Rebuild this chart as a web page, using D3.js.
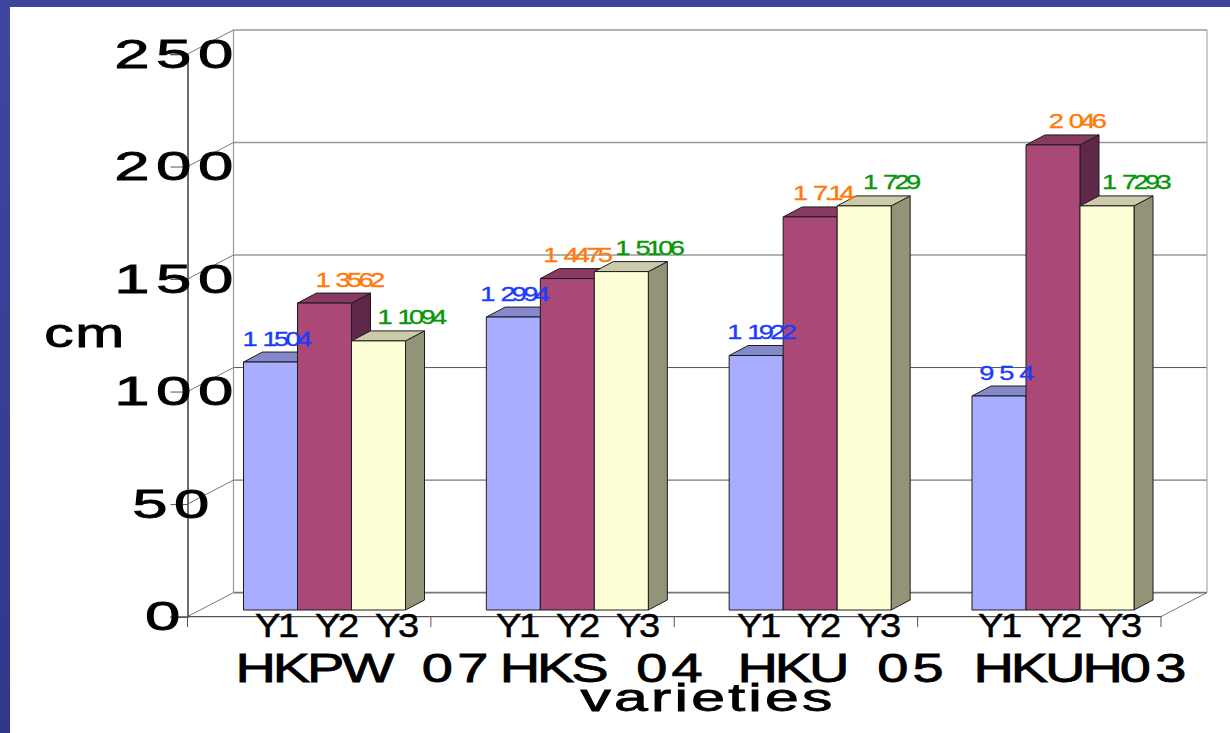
<!DOCTYPE html>
<html><head><meta charset="utf-8">
<script src="https://cdn.jsdelivr.net/npm/d3@7/dist/d3.min.js"></script>
<style>html,body{margin:0;padding:0;background:#fff;overflow:hidden}svg{display:block}text{font-family:"Liberation Sans",Arial,sans-serif}</style>
</head><body><svg id="c" width="1230" height="733"></svg>
<script>
const categories = ["HKPW 07", "HKS 04", "HKU 05", "HKUH03"];
const seriesNames = ["Y1", "Y2", "Y3"];
const y1Values = [110.2, 130.2, 113.1, 95.1];
const y2Values = [136.4, 147.3, 174.7, 206.7];
const y3Values = [119.6, 150.4, 179.6, 179.6];
const y1Labels = ["1 1504", "1 2994", "1 1922", "9 5 4"];
const y2Labels = ["1 3562", "1 4475", "1 7.14", "2 046"];
const y3Labels = ["1 1094", "1 5106", "1 729", "1 7293"];
const yTicks = [0, 50, 100, 150, 200, 250];
const yTitle = "cm", xTitle = "varieties";

const seriesValues = [y1Values, y2Values, y3Values];
const seriesLabels = [y1Labels, y2Labels, y3Labels];
const front = [{f:"#a9adff",t:"#8589cc",s:"#6a6da0",l:"#1a3cff"},
               {f:"#aa4878",t:"#883a60",s:"#5f2848",l:"#ff7a0a"},
               {f:"#ffffd6",t:"#cbcbaa",s:"#939377",l:"#0a960a"}];
// label placement offsets (series x category)
const labelNudge = [[5,0,4,6],[24,9,12,23],[32,27,26,28]];

const svg = d3.select("#c");
const defs = svg.append("defs");
const g = defs.append("linearGradient").attr("id","fr").attr("x1",0).attr("y1",0).attr("x2",0).attr("y2",1);
g.append("stop").attr("offset",0).attr("stop-color","#3f46a0");
g.append("stop").attr("offset",1).attr("stop-color","#33378a");
svg.append("rect").attr("width",1230).attr("height",7).attr("fill","#3d4499");
svg.append("rect").attr("width",10).attr("height",733).attr("fill","url(#fr)");

const DX = 46, DY = -24;
const xL = 187.5, xR = 1161, y0F = 616.6, yTopF = 54;
const yF = d3.scaleLinear().domain([0,250]).range([y0F,yTopF]);
const yBar = d3.scaleLinear().domain([0,250]).range([610,610-562.5]);
const x0 = d3.scaleBand().domain(categories).range([xL,xR]);
const barX = d3.scalePoint().domain(categories).range([324.5,1053]);
const x1 = d3.scaleBand().domain(seriesNames).range([-81,81]);
const catX = d3.scalePoint().domain(categories).range([364,1082]);
const serX = d3.scalePoint().domain(categories).range([336,1059]);
const bdx = 19, bdy = -10;

// walls
const wall = svg.append("g").attr("fill","none");
const heavy = v => v===0||v>=150;
wall.selectAll("line.grid").data(yTicks).join("line").attr("class","grid")
  .attr("x1",xL+DX).attr("x2",xR+DX).attr("y1",d=>yF(d)+DY).attr("y2",d=>yF(d)+DY)
  .attr("stroke",d=>d===0?"#777":heavy(d)?"#999":"#555").attr("stroke-width",d=>heavy(d)?1.6:1);
wall.append("line").attr("x1",xL+DX).attr("x2",xL+DX).attr("y1",yF(250)+DY).attr("y2",yF(0)+DY).attr("stroke","#999").attr("stroke-width",1.2);
wall.append("line").attr("x1",xR+DX).attr("x2",xR+DX).attr("y1",yF(250)+DY).attr("y2",yF(0)+DY).attr("stroke","#aaa").attr("stroke-width",1.2);
wall.selectAll("line.diag").data(yTicks).join("line").attr("class","diag")
  .attr("x1",xL).attr("x2",xL+DX).attr("y1",d=>yF(d)).attr("y2",d=>yF(d)+DY).attr("stroke","#777");
wall.append("line").attr("x1",xR).attr("x2",xR+DX).attr("y1",y0F).attr("y2",y0F+DY).attr("stroke","#777");

// axes
const yAxis = svg.append("g").attr("transform",`translate(${xL},0)`)
  .call(d3.axisLeft(yF).tickValues(yTicks).tickSize(17).tickFormat(d3.format("d")));
yAxis.select(".domain").attr("stroke","#333").attr("stroke-width",1.4);
yAxis.selectAll(".tick line").attr("stroke","#555");
yAxis.selectAll(".tick text")
  .attr("font-size",41).attr("fill","#000").attr("stroke","#000").attr("stroke-width",0.8).attr("text-anchor","middle")
  .attr("letter-spacing",4.2).attr("x",null).attr("dy",null)
  .attr("y",null)
  .attr("transform",function(d){return `translate(${d===0?166-xL:d<100?174-xL:177-xL},13) scale(1.55,1)`;});

svg.append("line").attr("x1",xL).attr("x2",xR).attr("y1",y0F).attr("y2",y0F).attr("stroke","#555").attr("stroke-width",1.2);
const tickXs = d3.range(categories.length+1).map(i=>xL+i*x0.step());
svg.selectAll("line.xt").data(tickXs).join("line").attr("class","xt")
  .attr("x1",d=>d).attr("x2",d=>d).attr("y1",y0F).attr("y2",627).attr("stroke","#555");

// bars
const cols = svg.selectAll("g.cat").data(categories).join("g").attr("class","cat")
  .attr("transform",c=>`translate(${barX(c)},0)`);
seriesNames.forEach((s,si)=>{
  const bw = x1.bandwidth();
  const b = cols.append("g").attr("stroke","#1c1c1c").attr("stroke-width",1).attr("stroke-linejoin","round");
  const col = front[si];
  const base = yBar(0);
  b.append("path").attr("fill",col.s).attr("d",(c,i)=>{
    const t=yBar(seriesValues[si][i]),r=x1(s)+bw;
    return `M${r},${t}L${r+bdx},${t+bdy}L${r+bdx},${base+bdy}L${r},${base}Z`;});
  b.append("path").attr("fill",col.t).attr("d",(c,i)=>{
    const t=yBar(seriesValues[si][i]),l=x1(s),r=l+bw;
    return `M${l},${t}L${l+bdx},${t+bdy}L${r+bdx},${t+bdy}L${r},${t}Z`;});
  b.append("rect").attr("fill",col.f).attr("x",x1(s)).attr("width",bw)
    .attr("y",(c,i)=>yBar(seriesValues[si][i]))
    .attr("height",(c,i)=>base-yBar(seriesValues[si][i]));
});
// value labels on top of all bars
seriesNames.forEach((s,si)=>{
  svg.selectAll(`text.v${si}`).data(categories).join("text").attr("class",`v${si}`)
    .text((c,i)=>seriesLabels[si][i])
    .attr("font-size",21).attr("fill",front[si].l).attr("stroke",front[si].l).attr("stroke-width",0.35).attr("text-anchor","middle")
    .attr("letter-spacing",-2.85).attr("word-spacing",3.6)
    .attr("transform",(c,i)=>{
      const cx=barX(c)+x1(s)+x1.bandwidth()/2+labelNudge[si][i];
      return `translate(${cx},${yBar(seriesValues[si][i])-16.5}) scale(1.3,1)`;});
});

// series tick labels
const serOff = d3.scalePoint().domain(seriesNames).range([-60,60]);
categories.forEach(c=>{
  svg.selectAll(null).data(seriesNames).join("text").text(d=>d)
    .attr("font-size",34).attr("fill","#000").attr("stroke","#000").attr("stroke-width",0.5)
    .attr("text-anchor","middle").attr("letter-spacing",-2)
    .attr("transform",d=>`translate(${serX(c)+serOff(d)},637) scale(1.12,1)`);
});
// category labels: digit runs are spaced wider than letter runs in the reference
const catText = svg.selectAll("text.cat").data(categories).join("text").attr("class","cat")
  .attr("font-size",40).attr("fill","#000").attr("stroke","#000").attr("stroke-width",0.8)
  .attr("text-anchor","middle").attr("word-spacing",13)
  .attr("transform",d=>`translate(${catX(d)},682) scale(1.4,1)`);
catText.each(function(d){
  const t = d3.select(this);
  d.match(/[A-Z]+|[0-9]+|\s+/g).forEach(run=>{
    t.append("tspan").text(run).attr("letter-spacing",/[0-9]/.test(run)?3:-2.2);
  });
});
// titles
svg.append("text").text(yTitle).attr("font-size",40).attr("fill","#000").attr("stroke","#000").attr("stroke-width",0.8).attr("text-anchor","middle")
  .attr("letter-spacing",1).attr("transform","translate(85,347) scale(1.47,1)");
svg.append("text").text(xTitle).attr("font-size",38).attr("fill","#000").attr("stroke","#000").attr("stroke-width",0.8).attr("text-anchor","middle")
  .attr("letter-spacing",2).attr("transform","translate(708,711) scale(1.6,1)");
</script></body></html>
